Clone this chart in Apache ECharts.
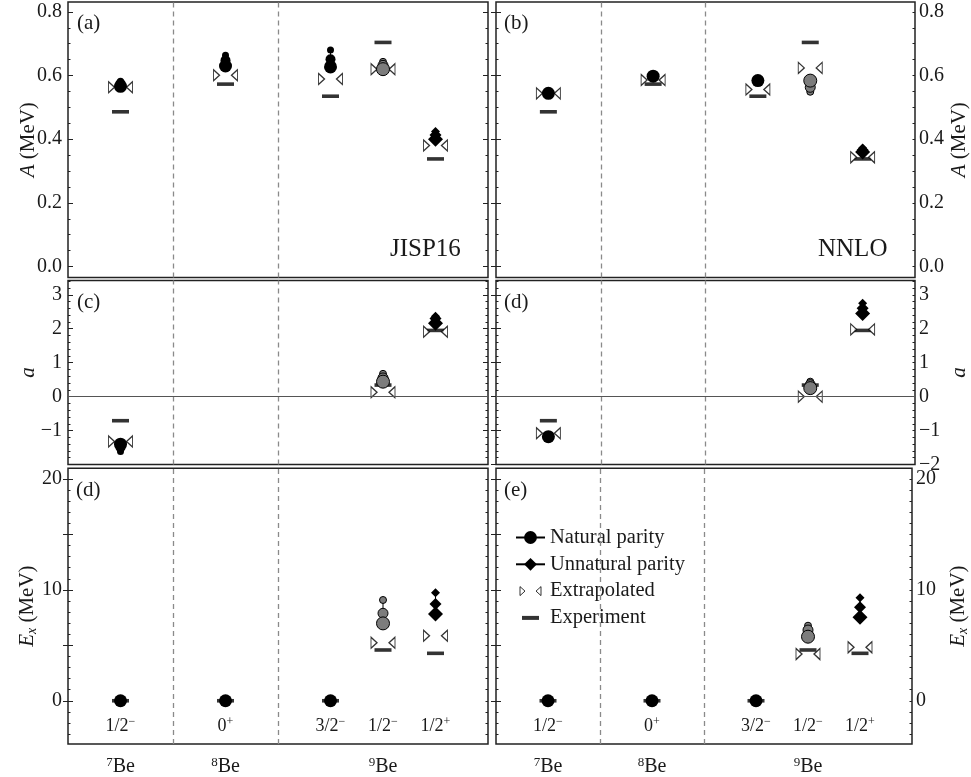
<!DOCTYPE html>
<html><head><meta charset="utf-8">
<script src="https://cdn.jsdelivr.net/npm/echarts@6/dist/echarts.min.js"></script>
<style>html,body{margin:0;padding:0;background:#fff}#c{width:971px;height:777px}</style>
</head><body><div id="c"></div>
<script>
const FONT = '"Liberation Serif","Times New Roman",serif';

// ---- categories ----
const nucleiMass = ['7', '8', '9'];
const nucleiX = [0.5, 1.5, 3.0];
const stateNames = ['1/2', '0', '3/2', '1/2', '1/2'];
const stateSigns = ['−', '+', '−', '−', '+'];
const stateX = [0.5, 1.5, 2.5, 3.0, 3.5];
const stateKind = ['natural', 'natural', 'natural', 'natural2', 'unnatural'];
const dividers = [1, 2];

// ---- tick labels ----
const ticksA = [0, 0.2, 0.4, 0.6, 0.8];
const ticksDecLeft = [-1, 0, 1, 2, 3];
const ticksDecRight = [-2, -1, 0, 1, 2, 3];
const ticksDecMajor = [-2, -1, 0, 1, 2, 3];
const ticksEx = [0, 10, 20];
const ticksExMajor = [0, 5, 10, 15, 20];

// ---- A (MeV): calculated values at increasing Nmax ----
const jispA = [
  [0.582, 0.575, 0.566],
  [0.664, 0.648, 0.630],
  [0.680, 0.651, 0.627],
  [0.643, 0.632, 0.620],
  [0.424, 0.413, 0.400]
];
const nnloA = [
  [0.548, 0.546, 0.544],
  [0.600, 0.599, 0.598],
  [0.586, 0.585, 0.584],
  [0.549, 0.563, 0.584],
  [0.372, 0.366, 0.360]
];
const jispAExt = [0.563, 0.601, 0.589, 0.620, 0.380];
const nnloAExt = [0.544, 0.586, 0.556, 0.624, 0.343];
const expA = [0.486, 0.573, 0.535, 0.704, 0.338];

// ---- decoupling parameter a ----
const jispDec = [[-1.62, -1.50, -1.40], null, null, [0.67, 0.55, 0.44], [2.37, 2.30, 2.16]];
const nnloDec = [[-1.15, -1.17, -1.18], null, null, [0.44, 0.35, 0.25], [2.75, 2.60, 2.45]];
const jispDecExt = [-1.32, null, null, 0.13, 1.91];
const nnloDecExt = [-1.08, null, null, 0.00, 1.98];
const expDec = [-0.71, null, null, 0.34, 1.95];

// ---- Ex (MeV) ----
const jispEx = [[0, 0, 0], [0, 0, 0], [0, 0, 0], [9.09, 7.89, 6.98], [9.75, 8.73, 7.83]];
const nnloEx = [[0, 0, 0], [0, 0, 0], [0, 0, 0], [6.77, 6.38, 5.78], [9.30, 8.43, 7.53]];
const jispExExt = [null, null, null, 5.24, 5.87];
const nnloExExt = [null, null, null, 4.21, 4.82];
const expEx = [0, 0, 0, 4.58, 4.28];

const calcData = [[jispA, nnloA], [jispDec, nnloDec], [jispEx, nnloEx]];
const extData = [[jispAExt, nnloAExt], [jispDecExt, nnloDecExt], [jispExExt, nnloExExt]];
const expData = [expA, expDec, expEx];

// ---- layout ----
const minus = s => String(s).replace('-', '−');
const rows = [
  {top: 2, height: 275.5, min: -0.0345, max: 0.831, major: ticksA, labL: ticksA, labR: ticksA, minorStep: 0.05,
   name: '{i|A} (MeV)', fmt: v => v.toFixed(1)},
  {top: 280.5, height: 184, min: -2, max: 3.42, major: ticksDecMajor, labL: ticksDecLeft, labR: ticksDecRight, minorStep: 0.2,
   name: '{i|a}', fmt: v => minus(v)},
  {top: 468.3, height: 275.7, min: -3.9, max: 20.97, major: ticksExMajor, labL: ticksEx, labR: ticksEx, minorStep: 1,
   name: '{i|E}{sub|x} (MeV)', fmt: v => String(v)}
];
const cols = [{left: 68, width: 420, side: 'left'}, {left: 496, width: 421, side: 'right'}];

function steps(min, max, step) {
  const out = [];
  for (let k = Math.ceil(min / step - 1e-9); k * step <= max + 1e-9; k++) out.push(+(k * step).toFixed(4));
  return out;
}

const TXT = '#1a1a1a';
const nameRich = {
  i: {fontFamily: FONT, fontSize: 21, fontStyle: 'italic', color: TXT},
  sub: {fontFamily: FONT, fontSize: 14, fontStyle: 'italic', color: TXT, padding: [10, 0, 0, 0]}
};
const xRich = {
  sup: {fontFamily: FONT, fontSize: 13, color: TXT, padding: [0, 0, 9, 0]},
  n: {fontFamily: FONT, fontSize: 20, color: TXT}
};
const sRich = {
  sup: {fontFamily: FONT, fontSize: 12, color: TXT, padding: [0, 0, 8, 0]},
  n: {fontFamily: FONT, fontSize: 18, color: TXT}
};

const grids = [], xAxes = [], yAxes = [], series = [];
const sizesCircle = [7, 10, 13];
const sizesDiamond = [9, 12, 15];

rows.forEach((row, r) => {
  cols.forEach((col, c) => {
    const g = grids.length;
    grids.push({left: col.left, top: row.top, width: col.width, height: row.height,
      show: true, borderColor: '#222', borderWidth: 1.5, backgroundColor: 'transparent'});
    const xi = xAxes.length;
    xAxes.push({gridIndex: g, type: 'value', min: 0, max: 4,
      axisLine: {show: false}, axisTick: {show: false}, splitLine: {show: false},
      axisLabel: r === 2 ? {
        show: true, customValues: nucleiX, margin: 12, rich: xRich,
        formatter: v => { const k = nucleiX.indexOf(v); return k < 0 ? '' : '{sup|' + nucleiMass[k] + '}{n|Be}'; }
      } : {show: false}});
    if (r === 2) {
      xAxes.push({gridIndex: g, type: 'value', min: 0, max: 4, position: 'bottom',
        axisLine: {show: false}, axisTick: {show: false}, splitLine: {show: false},
        axisLabel: {show: true, inside: true, margin: 8, customValues: stateX, rich: sRich,
          formatter: v => { const k = stateX.indexOf(v); return k < 0 ? '' : '{n|' + stateNames[k] + '}{sup|' + stateSigns[k] + '}'; }}});
    }
    const other = col.side === 'left' ? 'right' : 'left';
    const base = {gridIndex: g, type: 'value', min: row.min, max: row.max,
      axisLine: {show: false}, splitLine: {show: false}};
    const yi = yAxes.length;
    yAxes.push(Object.assign({}, base, {
      position: col.side,
      axisTick: {show: true, inside: true, length: 5, customValues: row.major, lineStyle: {color: '#222', width: 1}},
      axisLabel: {show: true, customValues: col.side === 'left' ? row.labL : row.labR, formatter: row.fmt,
        fontFamily: FONT, fontSize: 20, color: TXT, margin: col.side === 'left' ? 6 : 4},
      name: row.name, nameLocation: 'middle', nameRotate: 90, nameMoveOverlap: false,
      nameGap: col.side === 'left' ? 29 : 34,
      nameTextStyle: {fontFamily: FONT, fontSize: 21, color: TXT, rich: nameRich}
    }));
    yAxes.push(Object.assign({}, base, {position: other,
      axisTick: {show: true, inside: true, length: 5, customValues: row.major, lineStyle: {color: '#222', width: 1}},
      axisLabel: {show: false}}));
    const minor = steps(row.min, row.max, row.minorStep);
    ['left', 'right'].forEach(side => {
      yAxes.push(Object.assign({}, base, {position: side,
        axisTick: {show: true, inside: true, length: 2.5, customValues: minor, lineStyle: {color: '#222', width: 1}},
        axisLabel: {show: false}}));
    });

    // experiment bars (with dividers / zero line)
    const markData = dividers.map(d => ({xAxis: d, lineStyle: {type: [5, 4], color: '#8a8a8a', width: 1.3}}));
    if (r === 1) markData.push({yAxis: 0, lineStyle: {type: 'solid', color: '#555', width: 1.2}});
    const ex = expData[r];
    series.push({type: 'scatter', name: 'Experiment', xAxisIndex: xi, yAxisIndex: yi, z: 3, silent: true,
      symbol: 'rect', symbolSize: [17, 3.6], itemStyle: {color: '#000'},
      data: stateX.map((x, s) => ex[s] == null ? null : [x, ex[s]]).filter(d => d),
      markLine: {silent: true, symbol: ['none', 'none'], label: {show: false}, animation: false, data: markData}});
    // extrapolated
    const ext = extData[r][c];
    const extPts = stateX.map((x, s) => ext[s] == null ? null : [x, ext[s]]).filter(d => d);
    [['path://M0,0 L6,5.5 L0,11 Z', -9], ['path://M6,0 L0,5.5 L6,11 Z', 9]].forEach(([sym, off]) => {
      series.push({type: 'scatter', name: 'Extrapolated', xAxisIndex: xi, yAxisIndex: yi, z: 4, silent: true,
        symbol: sym, symbolSize: [6, 11], symbolOffset: [off, 0],
        itemStyle: {color: '#fff', borderColor: '#000', borderWidth: 1.2}, data: extPts});
    });
    // calculated
    calcData[r][c].forEach((vals, s) => {
      if (!vals) return;
      const kind = stateKind[s];
      const sizes = kind === 'unnatural' ? sizesDiamond : sizesCircle;
      series.push({type: 'line', name: kind === 'unnatural' ? 'Unnatural parity' : 'Natural parity',
        xAxisIndex: xi, yAxisIndex: yi, z: 5, silent: true,
        symbol: kind === 'unnatural' ? 'diamond' : 'circle', showSymbol: true,
        symbolSize: (v, p) => sizes[p.dataIndex],
        itemStyle: {color: kind === 'natural2' ? '#7c7c7c' : '#000', borderColor: '#000', borderWidth: kind === 'natural2' ? 1 : 0},
        lineStyle: {color: '#000', width: 1},
        data: vals.map(v => [stateX[s], v])});
    });
  });
});

const tstyle = (t, size) => ({text: t, font: size + 'px ' + FONT, fill: TXT});
const option = {
  animation: false,
  backgroundColor: '#fff',
  grid: grids, xAxis: xAxes, yAxis: yAxes, series: series,
  legend: {
    left: 515, top: 527, padding: 0, orient: 'vertical', itemWidth: 29, itemHeight: 16, itemGap: 5.8,
    selectedMode: false, textStyle: {fontFamily: FONT, fontSize: 20.5, color: TXT},
    data: [
      'Natural parity', 'Unnatural parity',
      {name: 'Extrapolated', icon: 'path://M0,0 M29,14 M4,2.5 L9,7 L4,11.5 Z M25,2.5 L20,7 L25,11.5 Z',
       itemStyle: {color: '#fff', borderColor: '#000', borderWidth: 1}},
      {name: 'Experiment', icon: 'path://M0,0 M29,14 M6,5 L23,5 L23,9 L6,9 Z', itemStyle: {color: '#000'}}
    ]
  },
  graphic: [
    {type: 'text', left: 77, top: 13, style: tstyle('(a)', 21)},
    {type: 'text', left: 504, top: 13, style: tstyle('(b)', 21)},
    {type: 'text', left: 77, top: 292, style: tstyle('(c)', 21)},
    {type: 'text', left: 504, top: 292, style: tstyle('(d)', 21)},
    {type: 'text', left: 76, top: 480, style: tstyle('(d)', 21)},
    {type: 'text', left: 504, top: 480, style: tstyle('(e)', 21)},
    {type: 'text', left: 390, top: 237, style: tstyle('JISP16', 25)},
    {type: 'text', left: 818, top: 237, style: tstyle('NNLO', 25)}
  ]
};
echarts.init(document.getElementById('c'), null, {renderer: 'canvas'}).setOption(option);
</script></body></html>
